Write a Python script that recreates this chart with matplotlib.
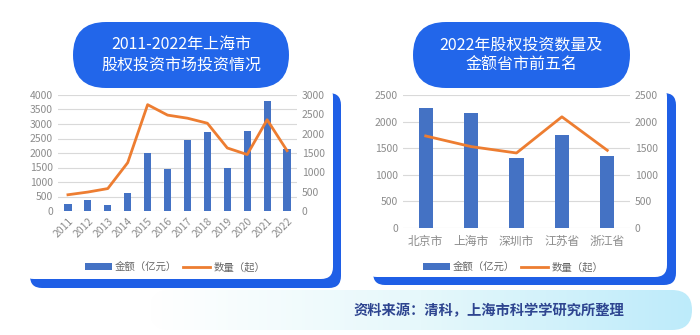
import matplotlib.pyplot as plt
import numpy as np
from matplotlib.colors import LinearSegmentedColormap
from matplotlib.lines import Line2D
from matplotlib.patches import FancyBboxPatch, Patch

plt.rcParams['font.family'] = ['Noto Sans CJK SC', 'DejaVu Sans']

# ── data ─────────────────────────────────────────────
years = ['2011', '2012', '2013', '2014', '2015', '2016',
         '2017', '2018', '2019', '2020', '2021', '2022']
sh_amount = [240, 370, 200, 620, 2000, 1450, 2450, 2720, 1500, 2770, 3790, 2150]
sh_count = [420, 490, 580, 1250, 2750, 2480, 2400, 2270, 1630, 1460, 2360, 1560]

regions = ['北京市', '上海市', '深圳市', '江苏省', '浙江省']
reg_amount = [2250, 2170, 1310, 1750, 1345]
reg_count = [1730, 1530, 1410, 2090, 1460]

title_left = '2011-2022年上海市\n股权投资市场投资情况'
title_right = '2022年股权投资数量及\n金额省市前五名'
source_text = '资料来源：清科，上海市科学学研究所整理'
legend_labels = ['金额（亿元）', '数量（起）']

BAR = '#4472C4'
LINE = '#ED7D31'
CARD_BLUE = '#1F5FE6'
PILL_BLUE = '#2266EA'
TICK = '#8C8C8C'
GRID = '#D9D9D9'

W, H = 700, 335
fig = plt.figure(figsize=(7, 3.35), dpi=100)

# ── background layer in pixel coords ────────────────
bg = fig.add_axes([0, 0, 1, 1])
bg.set_xlim(0, W)
bg.set_ylim(H, 0)
bg.axis('off')


def rbox(x0, y0, x1, y1, r, color, z):
    p = FancyBboxPatch((x0, y0), x1 - x0, y1 - y0,
                       boxstyle=f'round,pad=0,rounding_size={r}',
                       fc=color, ec='none', zorder=z)
    bg.add_patch(p)
    return p


# source banner with gradient
banner = rbox(150, 290, 692, 330, 20, 'none', 1)
grad = np.linspace(0, 1, 256).reshape(1, -1)
cmap = LinearSegmentedColormap.from_list('bn', ['#FFFFFF', '#E6F8FB', '#BDEBFA'])
im = bg.imshow(grad, extent=(150, 692, 330, 290), cmap=cmap, aspect='auto', zorder=1)
im.set_clip_path(banner)
bg.text(489, 311, source_text, ha='center', va='center', fontsize=10.3,
        color='#2E4590', fontweight='bold', zorder=3)

# cards: blue shadow + white face
rbox(30, 93, 341, 288, 12, CARD_BLUE, 2)
rbox(22, 85, 333, 279, 12, 'white', 3)
rbox(373, 93, 676, 285, 12, CARD_BLUE, 2)
rbox(365, 85, 667, 277, 12, 'white', 3)

# title pills
rbox(73, 22, 289, 88, 33, PILL_BLUE, 4)
rbox(413, 22, 630, 88, 33, PILL_BLUE, 4)
bg.text(181, 55, title_left, ha='center', va='center', fontsize=11.5,
        color='white', linespacing=1.25, zorder=5)
bg.text(521, 55, title_right, ha='center', va='center', fontsize=11.5,
        color='white', linespacing=1.25, zorder=5)


def style(ax, ax2):
    for a in (ax, ax2):
        for s in a.spines.values():
            s.set_visible(False)
        a.tick_params(length=0, colors=TICK, labelsize=7.5)
    ax.yaxis.grid(True, color=GRID, lw=0.8)
    ax.set_axisbelow(True)
    ax.patch.set_alpha(0)


def legend(ax, x, y):
    handles = [Patch(fc=BAR, ec='none'), Line2D([], [], color=LINE, lw=2)]
    ax.legend(handles, legend_labels, loc='center', bbox_to_anchor=(x, y),
              bbox_transform=fig.transFigure, ncol=2, frameon=False,
              fontsize=7.5, labelcolor='#666666', handlelength=2.6,
              handleheight=0.6, columnspacing=0.6, handletextpad=0.3)


# ── left chart ───────────────────────────────────────
ax1 = fig.add_axes([58 / W, 1 - 211 / H, 239 / W, 116 / H], zorder=6)
x = np.arange(len(years))
ax1.bar(x, sh_amount, width=0.36, color=BAR, zorder=2)
ax1.set_ylim(0, 4000)
ax1.set_yticks(range(0, 4001, 500))
ax1.set_xlim(-0.5, len(years) - 0.5)
ax1.set_xticks(x)
ax1.set_xticklabels(years, rotation=45, ha='right', rotation_mode='anchor')
ax1b = ax1.twinx()
ax1b.plot(x, sh_count, color=LINE, lw=2, zorder=3)
ax1b.set_ylim(0, 3000)
ax1b.set_yticks(range(0, 3001, 500))
style(ax1, ax1b)
legend(ax1b, 175 / W, 1 - 267 / H)

# ── right chart ──────────────────────────────────────
ax2 = fig.add_axes([403 / W, 1 - 228 / H, 227 / W, 133 / H], zorder=6)
xr = np.arange(len(regions))
ax2.bar(xr, reg_amount, width=0.31, color=BAR, zorder=2)
ax2.set_ylim(0, 2500)
ax2.set_yticks(range(0, 2501, 500))
ax2.set_xlim(-0.5, len(regions) - 0.5)
ax2.set_xticks(xr)
ax2.set_xticklabels(regions)
ax2b = ax2.twinx()
ax2b.plot(xr, reg_count, color=LINE, lw=2, zorder=3)
ax2b.set_ylim(0, 2500)
ax2b.set_yticks(range(0, 2501, 500))
style(ax2, ax2b)
ax2.tick_params(axis='x', labelsize=8.5, pad=5)
legend(ax2b, 513 / W, 1 - 267 / H)

fig.savefig('out.png', dpi=100)
